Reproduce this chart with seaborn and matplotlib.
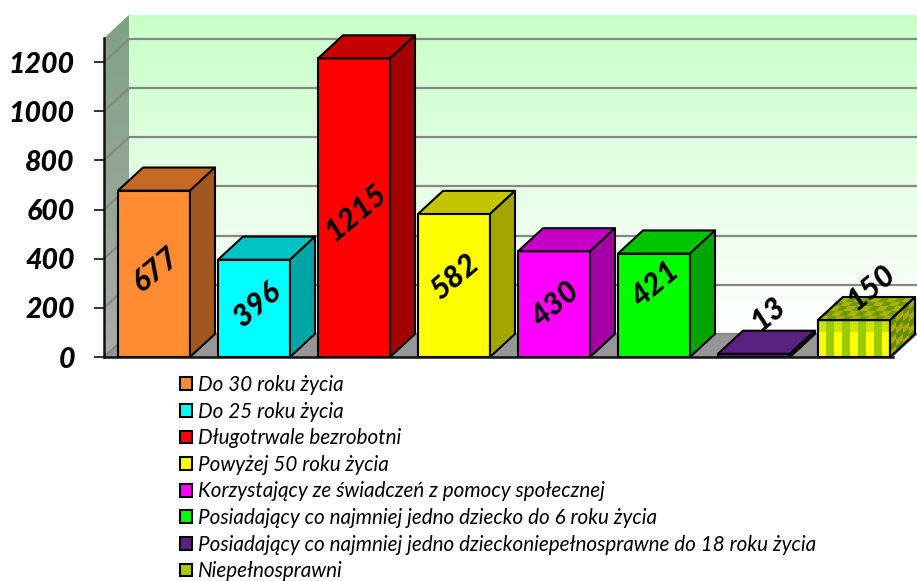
import numpy as np
import pandas as pd
import matplotlib
matplotlib.use('Agg')
import matplotlib.pyplot as plt
import seaborn as sns
from matplotlib.colors import LinearSegmentedColormap, ListedColormap
from matplotlib.patches import Patch, Polygon

categories = ['Do 30 roku życia', 'Do 25 roku życia', 'Długotrwale bezrobotni',
              'Powyżej 50 roku życia', 'Korzystający ze świadczeń z pomocy społecznej',
              'Posiadający co najmniej jedno dziecko do 6 roku życia',
              'Posiadający co najmniej jedno dzieckoniepełnosprawne do 18 roku życia',
              'Niepełnosprawni']
values = [677, 396, 1215, 582, 430, 421, 13, 150]
label_dx = [0.02, 0.03, 0.02, 0.01, 0.01, 0.01, 0.14, 0.17]
label_y = [355, 212, 590, 325, 215, 298, 175, 285]
y_ticks = [0, 200, 400, 600, 800, 1000, 1200]

front_colors = ['#FF8B33', '#00FFFF', '#FF0000', '#FFFF00', '#FF00FF', '#00FF00', '#5B2180', '#FFFF00']
top_colors = ['#C46A24', '#00C4C4', '#C40000', '#C4C400', '#C400C4', '#00C400', '#5B2180', '#A8B400']
side_colors = ['#A05820', '#00A5A5', '#A50000', '#A5A500', '#A500A5', '#00A500', '#4A1A6A', '#99A000']

DX = 0.25
DY = 94
BAR_W = 0.72
X0, X1 = -0.5, 7.39
Y1 = 1298

sns.set_style('white')
plt.rcParams['font.family'] = ['Lato', 'DejaVu Sans']

fig = plt.figure(figsize=(9.17, 5.81), dpi=100)
ax = fig.add_axes([104 / 917, 1 - 357 / 581, (893 - 104) / 917, (357 - 38) / 581])

df = pd.DataFrame({'kategoria': categories, 'poz': range(len(categories)), 'liczba': values})


def gradient_patch(ax, poly, colors, zorder):
    # vertical gradient clipped to a polygon
    xs, ys = zip(*poly)
    cmap = LinearSegmentedColormap.from_list('g', colors)
    im = ax.imshow(np.linspace(0, 1, 256).reshape(-1, 1), cmap=cmap, aspect='auto', origin='upper',
                   extent=[min(xs), max(xs), min(ys), max(ys)], zorder=zorder)
    clip = Polygon(poly, transform=ax.transData, fill=False, edgecolor='none')
    ax.add_patch(clip)
    clip.set_clip_on(False)
    im.set_clip_box(fig.bbox)
    im.set_clip_path(clip)


# walls and floor
back = [(X0 + DX, DY), (X1 + DX, DY), (X1 + DX, Y1 + DY), (X0 + DX, Y1 + DY)]
left = [(X0, 0), (X0 + DX, DY), (X0 + DX, Y1 + DY), (X0, Y1)]
gradient_patch(ax, back, ['#C8FFC8', '#FFFFFF'], 0.1)
gradient_patch(ax, left, ['#7FA283', '#AAAAAA'], 0.2)
ax.add_patch(Polygon([(X0, 0), (X1, 0), (X1 + DX, DY), (X0 + DX, DY)], facecolor='#969696',
                     edgecolor='none', zorder=0.3, clip_on=False))
for t in y_ticks:
    ax.plot([X0 + DX, X1 + DX], [t + DY, t + DY], color='#868686', lw=1.6, zorder=0.4, clip_on=False)
    ax.plot([X0, X0 + DX], [t, t + DY], color='#868686', lw=1.6, zorder=0.4, clip_on=False)

sns.barplot(data=df, x='poz', y='liczba', hue='kategoria', palette=front_colors, dodge=False, native_scale=True,
            width=BAR_W, saturation=1, edgecolor='black', linewidth=1.5, legend=False, ax=ax)
for i, cont in enumerate(ax.containers):
    for bar in cont:
        bar.set_zorder(3 + i)

# depth faces of the bars
for i, v in enumerate(values):
    l, r = i - BAR_W / 2, i + BAR_W / 2
    ax.add_patch(Polygon([(l, v), (r, v), (r + DX, v + DY), (l + DX, v + DY)], facecolor=top_colors[i],
                         edgecolor='black', lw=1.5, zorder=3 + i, clip_on=False, joinstyle='round'))
    ax.add_patch(Polygon([(r, 0), (r + DX, DY), (r + DX, v + DY), (r, v)], facecolor=side_colors[i],
                         edgecolor='black', lw=1.5, zorder=3 + i, clip_on=False, joinstyle='round'))

# checkered last bar
check = ListedColormap(['#FFFF00', '#99CC00', '#CCE600'])
i = 7
v = values[i]
l, r = i - BAR_W / 2, i + BAR_W / 2
front = np.array([[0, 1, 0, 1, 0, 1, 0, 1, 0], [0, 1, 0, 1, 0, 1, 0, 1, 0], [2, 1, 2, 1, 2, 1, 2, 1, 2]])
u, w = np.meshgrid(np.linspace(0, 1, 10), np.linspace(0, 1, 4))
ax.pcolormesh(l + u * BAR_W, w * v, front, cmap=check, vmin=0, vmax=2, zorder=11, clip_on=False)
ax.add_patch(Polygon([(l, 0), (r, 0), (r, v), (l, v)], fill=False, edgecolor='black', lw=1.5, zorder=12))

cb = np.indices((5, 9)).sum(axis=0) % 2
top_check = ListedColormap(['#A8B400', '#6E9A00'])
u, w = np.meshgrid(np.linspace(0, 1, 10), np.linspace(0, 1, 6))
ax.pcolormesh(l + u * BAR_W + w * DX, v + w * DY, cb, cmap=top_check, zorder=11, clip_on=False)
ax.add_patch(Polygon([(l, v), (r, v), (r + DX, v + DY), (l + DX, v + DY)], fill=False, edgecolor='black',
                     lw=1.5, zorder=12, clip_on=False))
cb = np.indices((6, 4)).sum(axis=0) % 2
side_check = ListedColormap(['#B0A800', '#5F8F00'])
u, w = np.meshgrid(np.linspace(0, 1, 5), np.linspace(0, 1, 7))
ax.pcolormesh(r + u * DX, u * DY + w * v, cb, cmap=side_check, zorder=11, clip_on=False)
ax.add_patch(Polygon([(r, 0), (r + DX, DY), (r + DX, v + DY), (r, v)], fill=False, edgecolor='black',
                     lw=1.5, zorder=12, clip_on=False))

# value labels
for i, v in enumerate(values):
    ax.text(i + label_dx[i], label_y[i], str(v), rotation=40, ha='center', va='center', fontsize=22,
            fontweight='black', fontstyle='italic', color='black', zorder=20, clip_on=False,
            rotation_mode='anchor')

ax.set_xlim(X0, X1)
ax.set_ylim(0, Y1)
ax.set_xlabel('')
ax.set_ylabel('')
ax.set_xticks([])
ax.set_yticks(y_ticks)
ax.set_yticklabels([str(t) for t in y_ticks], fontsize=20.5, fontweight='black', fontstyle='italic', color='black')
ax.tick_params(axis='y', left=True, length=7, width=1.3, color='#222222', pad=14)
ax.patch.set_visible(False)
for side in ['top', 'right']:
    ax.spines[side].set_visible(False)
for side in ['left', 'bottom']:
    ax.spines[side].set_visible(True)
    ax.spines[side].set_color('#111111')
    ax.spines[side].set_linewidth(1.8)
    ax.spines[side].set_zorder(30)

handles = [Patch(facecolor=front_colors[i], edgecolor='black', lw=1.5) for i in range(7)]
handles.append(Patch(facecolor='#A8CC00', edgecolor='black', lw=1.5))
leg = fig.legend(handles, categories, loc='upper left', bbox_to_anchor=(180 / 917, 1 - 375 / 581), frameon=False,
                 prop={'size': 14.9, 'style': 'italic'}, labelspacing=0.32, handlelength=0.58, handleheight=0.58,
                 handletextpad=0.29, borderpad=0, borderaxespad=0)
for text in leg.get_texts():
    text.set_color('black')

fig.savefig('out.png', dpi=100)
